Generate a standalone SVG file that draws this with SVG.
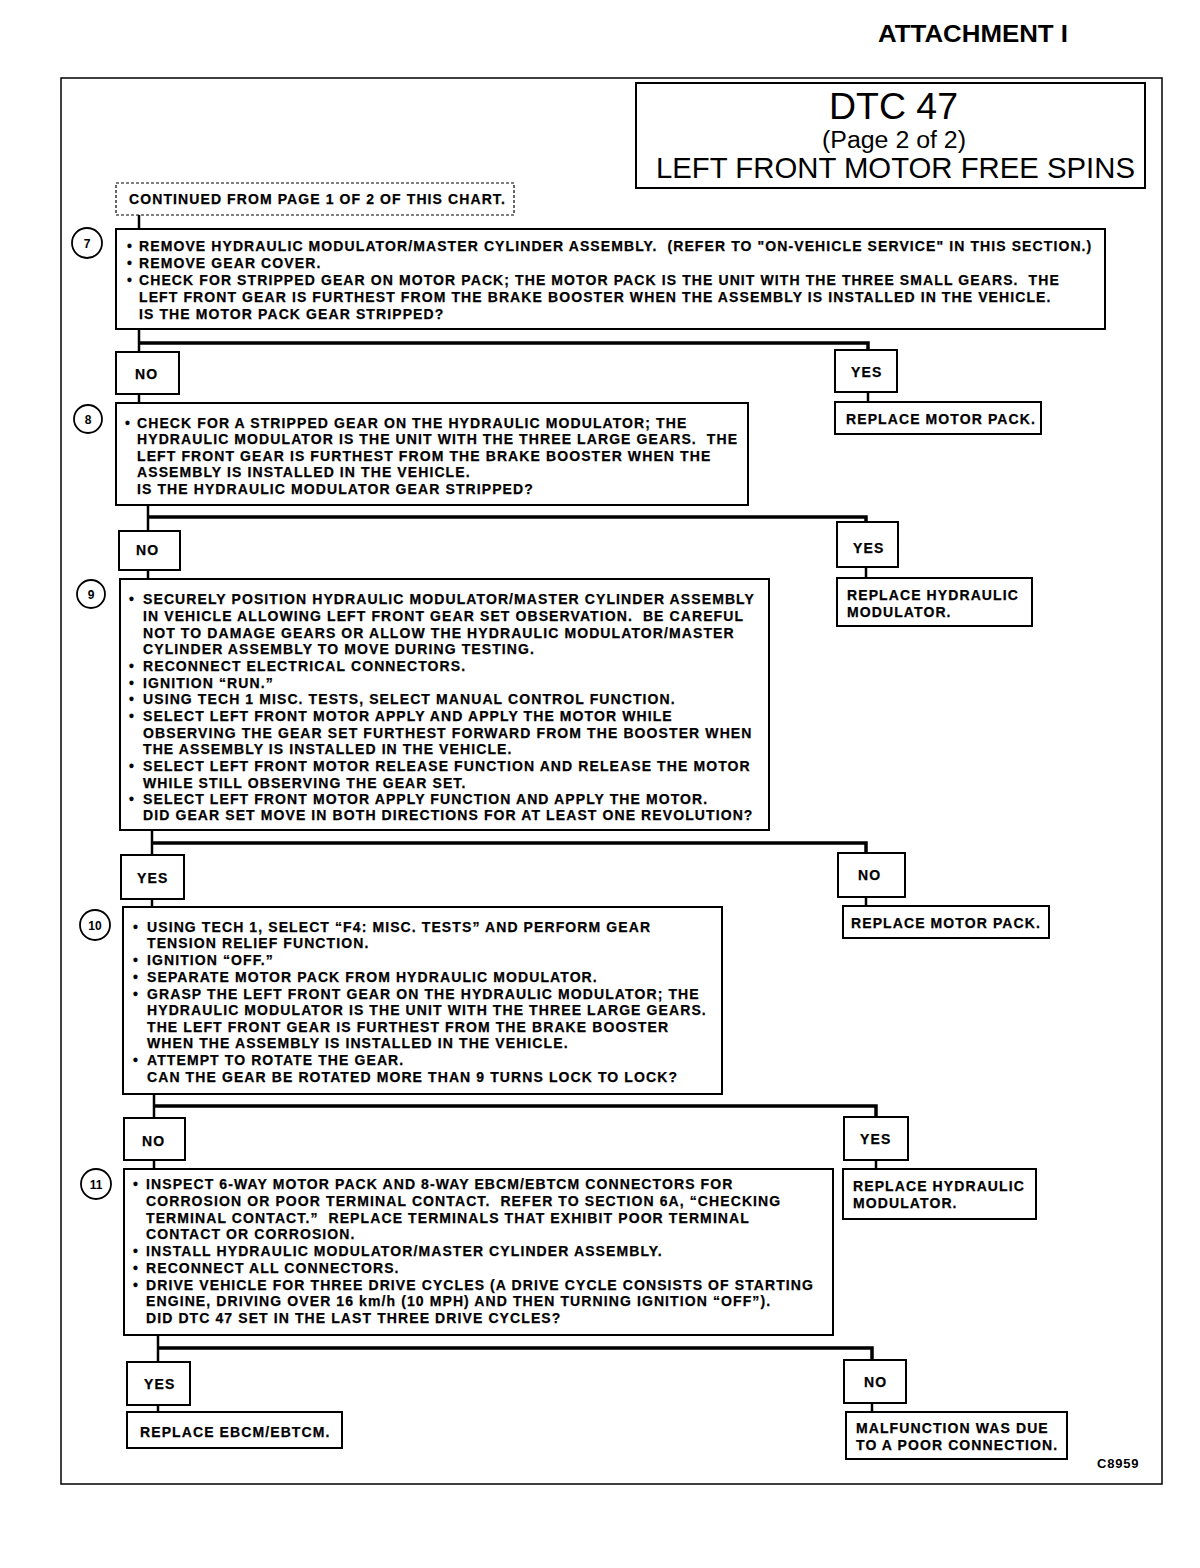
<svg xmlns="http://www.w3.org/2000/svg" width="1200" height="1568" viewBox="0 0 1200 1568">
<style>
text{font-family:"Liberation Sans",Arial,sans-serif;fill:#000;white-space:pre}
.b{font-weight:bold;font-size:14px;letter-spacing:1.1px;stroke:#000;stroke-width:0.25}
.box{fill:#fff;stroke:#000;stroke-width:2}
.frame{fill:none;stroke:#000;stroke-width:1.5}
.num{fill:#fff;stroke:#000;stroke-width:1.8}
.nt{font-weight:bold;font-size:12px;text-anchor:middle}
.bar{fill:none;stroke:#000;stroke-width:3.5}
.ln{fill:none;stroke:#000;stroke-width:2.5}
</style>
<rect width="1200" height="1568" fill="#fff"/>
<text x="878" y="42" font-weight="bold" font-size="24" textLength="190" lengthAdjust="spacingAndGlyphs">ATTACHMENT I</text>
<g id="frame">
<path class="frame" d="M61,78 H1162 V1484 H61 Z"/>
</g>
<g id="title">
<rect class="box" x="636" y="83" width="509" height="105" stroke-width="1.5"/>
<text x="829" y="119" font-size="37" textLength="129" lengthAdjust="spacingAndGlyphs">DTC 47</text>
<text x="822" y="148" font-size="23" textLength="144" lengthAdjust="spacingAndGlyphs">(Page 2 of 2)</text>
<text x="656" y="178" font-size="29" textLength="479" lengthAdjust="spacingAndGlyphs">LEFT FRONT MOTOR FREE SPINS</text>
</g>
<g id="connectors">
<path class="ln" d="M139,215 V229"/>
<path class="ln" d="M139,329 V352"/>
<path class="bar" d="M139,343 H868 V350"/>
<path class="ln" d="M139,394 V403"/>
<path class="ln" d="M868,392 V402"/>
<path class="ln" d="M148,505 V531"/>
<path class="bar" d="M148,517 H866 V522"/>
<path class="ln" d="M148,570 V579"/>
<path class="ln" d="M866,567 V578"/>
<path class="ln" d="M152,830 V855"/>
<path class="bar" d="M152,843 H866 V853"/>
<path class="ln" d="M152,899 V907"/>
<path class="ln" d="M866,897 V906"/>
<path class="ln" d="M154,1094 V1118"/>
<path class="bar" d="M154,1106 H876 V1117"/>
<path class="ln" d="M154,1160 V1169"/>
<path class="ln" d="M876,1160 V1169"/>
<path class="ln" d="M158,1335 V1362"/>
<path class="bar" d="M158,1348 H872 V1360"/>
<path class="ln" d="M158,1405 V1412"/>
<path class="ln" d="M872,1403 V1412"/>
</g>
<g id="start">
<rect x="116" y="183" width="398" height="32" fill="#fff" stroke="#000" stroke-width="1.2" stroke-dasharray="3,2"/>
<text class="b" x="129" y="204">CONTINUED FROM PAGE 1 OF 2 OF THIS CHART.</text>
</g>
<g id="step7">
<circle class="num" cx="87" cy="243" r="15"/>
<text class="nt" x="87" y="248">7</text>
<rect class="box" x="116" y="229" width="989" height="100"/>
<text class="b"><tspan x="127" y="251">•</tspan><tspan x="139" y="251">REMOVE HYDRAULIC MODULATOR/MASTER CYLINDER ASSEMBLY.  (REFER TO "ON-VEHICLE SERVICE" IN THIS SECTION.)</tspan><tspan x="127" y="268">•</tspan><tspan x="139" y="268">REMOVE GEAR COVER.</tspan><tspan x="127" y="285">•</tspan><tspan x="139" y="285">CHECK FOR STRIPPED GEAR ON MOTOR PACK; THE MOTOR PACK IS THE UNIT WITH THE THREE SMALL GEARS.  THE</tspan><tspan x="139" y="302">LEFT FRONT GEAR IS FURTHEST FROM THE BRAKE BOOSTER WHEN THE ASSEMBLY IS INSTALLED IN THE VEHICLE.</tspan><tspan x="139" y="319">IS THE MOTOR PACK GEAR STRIPPED?</tspan></text>
</g>
<g id="no7">
<rect class="box" x="116" y="352" width="63" height="42"/>
<text class="b" x="135" y="379">NO</text>
</g>
<g id="yes7">
<rect class="box" x="835" y="350" width="62" height="42"/>
<text class="b" x="851" y="377">YES</text>
</g>
<g id="replace-motor-pack-1">
<rect class="box" x="835" y="402" width="206" height="32"/>
<text class="b" x="846" y="424">REPLACE MOTOR PACK.</text>
</g>
<g id="step8">
<circle class="num" cx="88" cy="419" r="14"/>
<text class="nt" x="88" y="424">8</text>
<rect class="box" x="116" y="403" width="632" height="102"/>
<text class="b"><tspan x="125" y="428">•</tspan><tspan x="137" y="428">CHECK FOR A STRIPPED GEAR ON THE HYDRAULIC MODULATOR; THE</tspan><tspan x="137" y="444">HYDRAULIC MODULATOR IS THE UNIT WITH THE THREE LARGE GEARS.  THE</tspan><tspan x="137" y="461">LEFT FRONT GEAR IS FURTHEST FROM THE BRAKE BOOSTER WHEN THE</tspan><tspan x="137" y="477">ASSEMBLY IS INSTALLED IN THE VEHICLE.</tspan><tspan x="137" y="494">IS THE HYDRAULIC MODULATOR GEAR STRIPPED?</tspan></text>
</g>
<g id="no8">
<rect class="box" x="119" y="531" width="61" height="39"/>
<text class="b" x="136" y="555">NO</text>
</g>
<g id="yes8">
<rect class="box" x="837" y="522" width="61" height="45"/>
<text class="b" x="853" y="553">YES</text>
</g>
<g id="replace-hydraulic-1">
<rect class="box" x="837" y="578" width="195" height="48"/>
<text class="b"><tspan x="847" y="600">REPLACE HYDRAULIC</tspan><tspan x="847" y="617">MODULATOR.</tspan></text>
</g>
<g id="step9">
<circle class="num" cx="91" cy="594" r="14"/>
<text class="nt" x="91" y="599">9</text>
<rect class="box" x="120" y="579" width="649" height="251"/>
<text class="b"><tspan x="129" y="604">•</tspan><tspan x="143" y="604">SECURELY POSITION HYDRAULIC MODULATOR/MASTER CYLINDER ASSEMBLY</tspan><tspan x="143" y="621">IN VEHICLE ALLOWING LEFT FRONT GEAR SET OBSERVATION.  BE CAREFUL</tspan><tspan x="143" y="638">NOT TO DAMAGE GEARS OR ALLOW THE HYDRAULIC MODULATOR/MASTER</tspan><tspan x="143" y="654">CYLINDER ASSEMBLY TO MOVE DURING TESTING.</tspan><tspan x="129" y="671">•</tspan><tspan x="143" y="671">RECONNECT ELECTRICAL CONNECTORS.</tspan><tspan x="129" y="688">•</tspan><tspan x="143" y="688">IGNITION “RUN.”</tspan><tspan x="129" y="704">•</tspan><tspan x="143" y="704">USING TECH 1 MISC. TESTS, SELECT MANUAL CONTROL FUNCTION.</tspan><tspan x="129" y="721">•</tspan><tspan x="143" y="721">SELECT LEFT FRONT MOTOR APPLY AND APPLY THE MOTOR WHILE</tspan><tspan x="143" y="738">OBSERVING THE GEAR SET FURTHEST FORWARD FROM THE BOOSTER WHEN</tspan><tspan x="143" y="754">THE ASSEMBLY IS INSTALLED IN THE VEHICLE.</tspan><tspan x="129" y="771">•</tspan><tspan x="143" y="771">SELECT LEFT FRONT MOTOR RELEASE FUNCTION AND RELEASE THE MOTOR</tspan><tspan x="143" y="788">WHILE STILL OBSERVING THE GEAR SET.</tspan><tspan x="129" y="804">•</tspan><tspan x="143" y="804">SELECT LEFT FRONT MOTOR APPLY FUNCTION AND APPLY THE MOTOR.</tspan><tspan x="143" y="820">DID GEAR SET MOVE IN BOTH DIRECTIONS FOR AT LEAST ONE REVOLUTION?</tspan></text>
</g>
<g id="yes9">
<rect class="box" x="121" y="855" width="63" height="44"/>
<text class="b" x="137" y="883">YES</text>
</g>
<g id="no9">
<rect class="box" x="838" y="853" width="67" height="44"/>
<text class="b" x="858" y="880">NO</text>
</g>
<g id="replace-motor-pack-2">
<rect class="box" x="843" y="906" width="206" height="32"/>
<text class="b" x="851" y="928">REPLACE MOTOR PACK.</text>
</g>
<g id="step10">
<circle class="num" cx="95" cy="925" r="15"/>
<text class="nt" x="95" y="930">10</text>
<rect class="box" x="123" y="907" width="599" height="187"/>
<text class="b"><tspan x="133" y="932">•</tspan><tspan x="147" y="932">USING TECH 1, SELECT “F4: MISC. TESTS” AND PERFORM GEAR</tspan><tspan x="147" y="948">TENSION RELIEF FUNCTION.</tspan><tspan x="133" y="965">•</tspan><tspan x="147" y="965">IGNITION “OFF.”</tspan><tspan x="133" y="982">•</tspan><tspan x="147" y="982">SEPARATE MOTOR PACK FROM HYDRAULIC MODULATOR.</tspan><tspan x="133" y="999">•</tspan><tspan x="147" y="999">GRASP THE LEFT FRONT GEAR ON THE HYDRAULIC MODULATOR; THE</tspan><tspan x="147" y="1015">HYDRAULIC MODULATOR IS THE UNIT WITH THE THREE LARGE GEARS.</tspan><tspan x="147" y="1032">THE LEFT FRONT GEAR IS FURTHEST FROM THE BRAKE BOOSTER</tspan><tspan x="147" y="1048">WHEN THE ASSEMBLY IS INSTALLED IN THE VEHICLE.</tspan><tspan x="133" y="1065">•</tspan><tspan x="147" y="1065">ATTEMPT TO ROTATE THE GEAR.</tspan><tspan x="147" y="1082">CAN THE GEAR BE ROTATED MORE THAN 9 TURNS LOCK TO LOCK?</tspan></text>
</g>
<g id="no10">
<rect class="box" x="124" y="1118" width="61" height="42"/>
<text class="b" x="142" y="1146">NO</text>
</g>
<g id="yes10">
<rect class="box" x="844" y="1117" width="64" height="43"/>
<text class="b" x="860" y="1144">YES</text>
</g>
<g id="replace-hydraulic-2">
<rect class="box" x="843" y="1169" width="193" height="50"/>
<text class="b"><tspan x="853" y="1191">REPLACE HYDRAULIC</tspan><tspan x="853" y="1208">MODULATOR.</tspan></text>
</g>
<g id="step11">
<circle class="num" cx="96" cy="1184" r="15"/>
<text class="nt" x="96" y="1189">11</text>
<rect class="box" x="124" y="1169" width="709" height="166"/>
<text class="b"><tspan x="133" y="1189">•</tspan><tspan x="146" y="1189">INSPECT 6-WAY MOTOR PACK AND 8-WAY EBCM/EBTCM CONNECTORS FOR</tspan><tspan x="146" y="1206">CORROSION OR POOR TERMINAL CONTACT.  REFER TO SECTION 6A, “CHECKING</tspan><tspan x="146" y="1223">TERMINAL CONTACT.”  REPLACE TERMINALS THAT EXHIBIT POOR TERMINAL</tspan><tspan x="146" y="1239">CONTACT OR CORROSION.</tspan><tspan x="133" y="1256">•</tspan><tspan x="146" y="1256">INSTALL HYDRAULIC MODULATOR/MASTER CYLINDER ASSEMBLY.</tspan><tspan x="133" y="1273">•</tspan><tspan x="146" y="1273">RECONNECT ALL CONNECTORS.</tspan><tspan x="133" y="1290">•</tspan><tspan x="146" y="1290">DRIVE VEHICLE FOR THREE DRIVE CYCLES (A DRIVE CYCLE CONSISTS OF STARTING</tspan><tspan x="146" y="1306">ENGINE, DRIVING OVER 16 km/h (10 MPH) AND THEN TURNING IGNITION “OFF”).</tspan><tspan x="146" y="1323">DID DTC 47 SET IN THE LAST THREE DRIVE CYCLES?</tspan></text>
</g>
<g id="yes11">
<rect class="box" x="127" y="1362" width="63" height="43"/>
<text class="b" x="144" y="1389">YES</text>
</g>
<g id="no11">
<rect class="box" x="844" y="1360" width="62" height="43"/>
<text class="b" x="864" y="1387">NO</text>
</g>
<g id="replace-ebcm">
<rect class="box" x="127" y="1412" width="215" height="36"/>
<text class="b" x="140" y="1437">REPLACE EBCM/EBTCM.</text>
</g>
<g id="malfunction">
<rect class="box" x="846" y="1412" width="221" height="47"/>
<text class="b"><tspan x="856" y="1433">MALFUNCTION WAS DUE</tspan><tspan x="856" y="1450">TO A POOR CONNECTION.</tspan></text>
</g>
<text x="1097" y="1468" font-weight="bold" font-size="13" letter-spacing="0.8">C8959</text>
</svg>
